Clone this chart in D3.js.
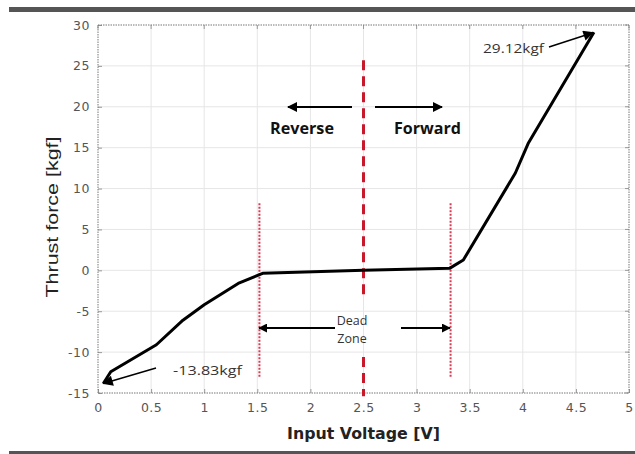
<!DOCTYPE html>
<html><head><meta charset="utf-8">
<script src="https://cdn.jsdelivr.net/npm/d3@7"></script>
<style>body{margin:0;background:#fff}svg{display:block}</style>
</head><body>
<svg id="c" width="635" height="454"></svg>
<script>
const voltage = [0.05, 0.12, 0.55, 0.8, 1.0, 1.32, 1.55, 2.5, 3.31, 3.44, 3.93, 4.05, 4.67];
const thrust  = [-13.83, -12.4, -9.1, -6.1, -4.2, -1.6, -0.37, 0.0, 0.24, 1.26, 11.9, 15.5, 29.12];
const xTicks = [0, 0.5, 1, 1.5, 2, 2.5, 3, 3.5, 4, 4.5, 5];
const yTicks = [-15, -10, -5, 0, 5, 10, 15, 20, 25, 30];
const xTickLabels = ["0","0.5","1","1.5","2","2.5","3","3.5","4","4.5","5"];
const yTickLabels = ["-15","-10","-5","0","5","10","15","20","25","30"];
const centerLine = 2.5;
const centerSegments = [[25.7, -3.0], [-10.6, -15.4]];
const deadZone = [1.52, 3.32];
const deadZoneSpan = [8.2, -13];

const svg = d3.select("#c");
const L = 98, R = 629, T = 25, B = 393;
const x = d3.scaleLinear().domain([0, 5]).range([L, R]);
const y = d3.scaleLinear().domain([-15, 30]).range([B, T]);

// decorative bars
svg.append("rect").attr("x", 9).attr("y", 7).attr("width", 626).attr("height", 5).attr("fill", "#555");
svg.append("rect").attr("x", 9).attr("y", 451).attr("width", 626).attr("height", 3).attr("fill", "#555");

// grid
const g = svg.append("g");
g.selectAll(".gx").data(xTicks.slice(1, -1)).join("line")
  .attr("x1", d => x(d)).attr("x2", d => x(d)).attr("y1", T).attr("y2", B)
  .attr("stroke", "#e6e6e6").attr("stroke-width", 1);
g.selectAll(".gy").data(yTicks.slice(1, -1)).join("line")
  .attr("y1", d => y(d)).attr("y2", d => y(d)).attr("x1", L).attr("x2", R)
  .attr("stroke", "#e6e6e6").attr("stroke-width", 1);

// axes
const ax = svg.append("g").attr("transform", `translate(0,${B})`)
  .call(d3.axisBottom(x).tickValues(xTicks).tickFormat((d, i) => xTickLabels[i]).tickSizeInner(-4).tickSizeOuter(0).tickPadding(10));
const ay = svg.append("g").attr("transform", `translate(${L},0)`)
  .call(d3.axisLeft(y).tickValues(yTicks).tickFormat((d, i) => yTickLabels[i]).tickSizeInner(-4).tickSizeOuter(0).tickPadding(8));
[ax, ay].forEach(a => {
  a.select(".domain").remove();
  a.selectAll(".tick line").attr("stroke", "#999");
  a.selectAll(".tick text").attr("fill", "#555").style("font-family", "DejaVu Sans, sans-serif").style("font-size", "12.5px").style("letter-spacing", "0.5px");
});
// top/right ticks
svg.append("g").selectAll("line").data(xTicks).join("line")
  .attr("x1", d => x(d)).attr("x2", d => x(d)).attr("y1", T).attr("y2", T + 4).attr("stroke", "#999");
svg.append("g").selectAll("line").data(yTicks).join("line")
  .attr("y1", d => y(d)).attr("y2", d => y(d)).attr("x1", R).attr("x2", R - 4).attr("stroke", "#999");

// box
svg.append("rect").attr("x", L).attr("y", T).attr("width", R - L).attr("height", B - T)
  .attr("fill", "none").attr("stroke", "#777").attr("stroke-width", 1).attr("stroke-dasharray", "1.5,1");

// markers
const defs = svg.append("defs");
defs.append("marker").attr("id", "ah").attr("viewBox", "0 0 10 10").attr("refX", 9).attr("refY", 5)
  .attr("markerWidth", 5).attr("markerHeight", 5).attr("markerUnits", "strokeWidth").attr("orient", "auto")
  .append("path").attr("d", "M0,0 L10,5 L0,10 Z").attr("fill", "#000");
defs.append("marker").attr("id", "ah2").attr("viewBox", "0 0 10 10").attr("refX", 9).attr("refY", 5)
  .attr("markerWidth", 9).attr("markerHeight", 7).attr("markerUnits", "strokeWidth").attr("orient", "auto")
  .append("path").attr("d", "M0,0 L10,5 L0,10 Z").attr("fill", "#000");

// red lines
svg.selectAll(".cl").data(centerSegments).join("line")
  .attr("x1", x(centerLine)).attr("x2", x(centerLine)).attr("y1", d => y(d[0])).attr("y2", d => y(d[1]))
  .attr("stroke", "#c8192a").attr("stroke-width", 3).attr("stroke-dasharray", "10,6");
svg.selectAll(".dz").data(deadZone).join("line")
  .attr("x1", d => x(d)).attr("x2", d => x(d)).attr("y1", y(deadZoneSpan[0])).attr("y2", y(deadZoneSpan[1]))
  .attr("stroke", "#d83c55").attr("stroke-width", 2).attr("stroke-dasharray", "2,1.5");

// data line
const pts = voltage.map((v, i) => [v, thrust[i]]);
svg.append("path").datum(pts)
  .attr("d", d3.line().x(d => x(d[0])).y(d => y(d[1])))
  .attr("fill", "none").attr("stroke", "#000").attr("stroke-width", 3).attr("stroke-linejoin", "round");

// arrows
function arrow(x1, y1, x2, y2, w, m) {
  svg.append("line").attr("x1", x1).attr("y1", y1).attr("x2", x2).attr("y2", y2)
    .attr("stroke", "#000").attr("stroke-width", w).attr("marker-end", `url(#${m})`);
}
arrow(352, 107, 288, 107, 2, "ah");
arrow(375, 107, 442, 107, 2, "ah");
arrow(335, 328, 259, 328, 1.8, "ah");
arrow(401, 328, 450, 328, 1.8, "ah");
arrow(549, 47, x(4.66), y(29.12) + 0.5, 1.5, "ah2");
arrow(156, 368, x(0.05), y(-13.83), 1.5, "ah2");

// texts
const txt = (s, tx, ty, opts) => {
  const t = svg.append("text").attr("x", tx).attr("y", ty).text(s)
    .style("font-family", opts.f || "Open Sans, sans-serif").style("font-size", opts.s + "px")
    .attr("fill", opts.c || "#111").attr("text-anchor", opts.a || "start")
    .style("font-weight", opts.w || "normal");
  if (opts.len) t.attr("textLength", opts.len).attr("lengthAdjust", "spacingAndGlyphs");
  return t;
};
txt("Reverse", 270, 134, {s: 15.5, w: "bold", len: 64, c: "#111"});
txt("Forward", 394, 134, {s: 15.5, w: "bold", len: 67, c: "#111"});
txt("Dead", 352, 325, {s: 12.5, a: "middle", c: "#333"});
txt("Zone", 352, 343, {s: 12.5, a: "middle", c: "#333"});
txt("29.12kgf", 483, 53, {s: 13.5, len: 61, c: "#333"});
txt("-13.83kgf", 173, 375, {s: 13.5, len: 69, c: "#333"});
txt("Input Voltage [V]", 287, 439, {s: 15, w: "bold", f: "DejaVu Sans, sans-serif", len: 153, c: "#222"});
svg.append("text").attr("transform", "translate(58,217) rotate(-90)").attr("text-anchor", "middle")
  .text("Thrust force [kgf]").style("font-family", "Liberation Sans, Arial, sans-serif").style("font-size", "17px")
  .attr("fill", "#222").attr("textLength", 161).attr("lengthAdjust", "spacingAndGlyphs");
</script>
</body></html>
